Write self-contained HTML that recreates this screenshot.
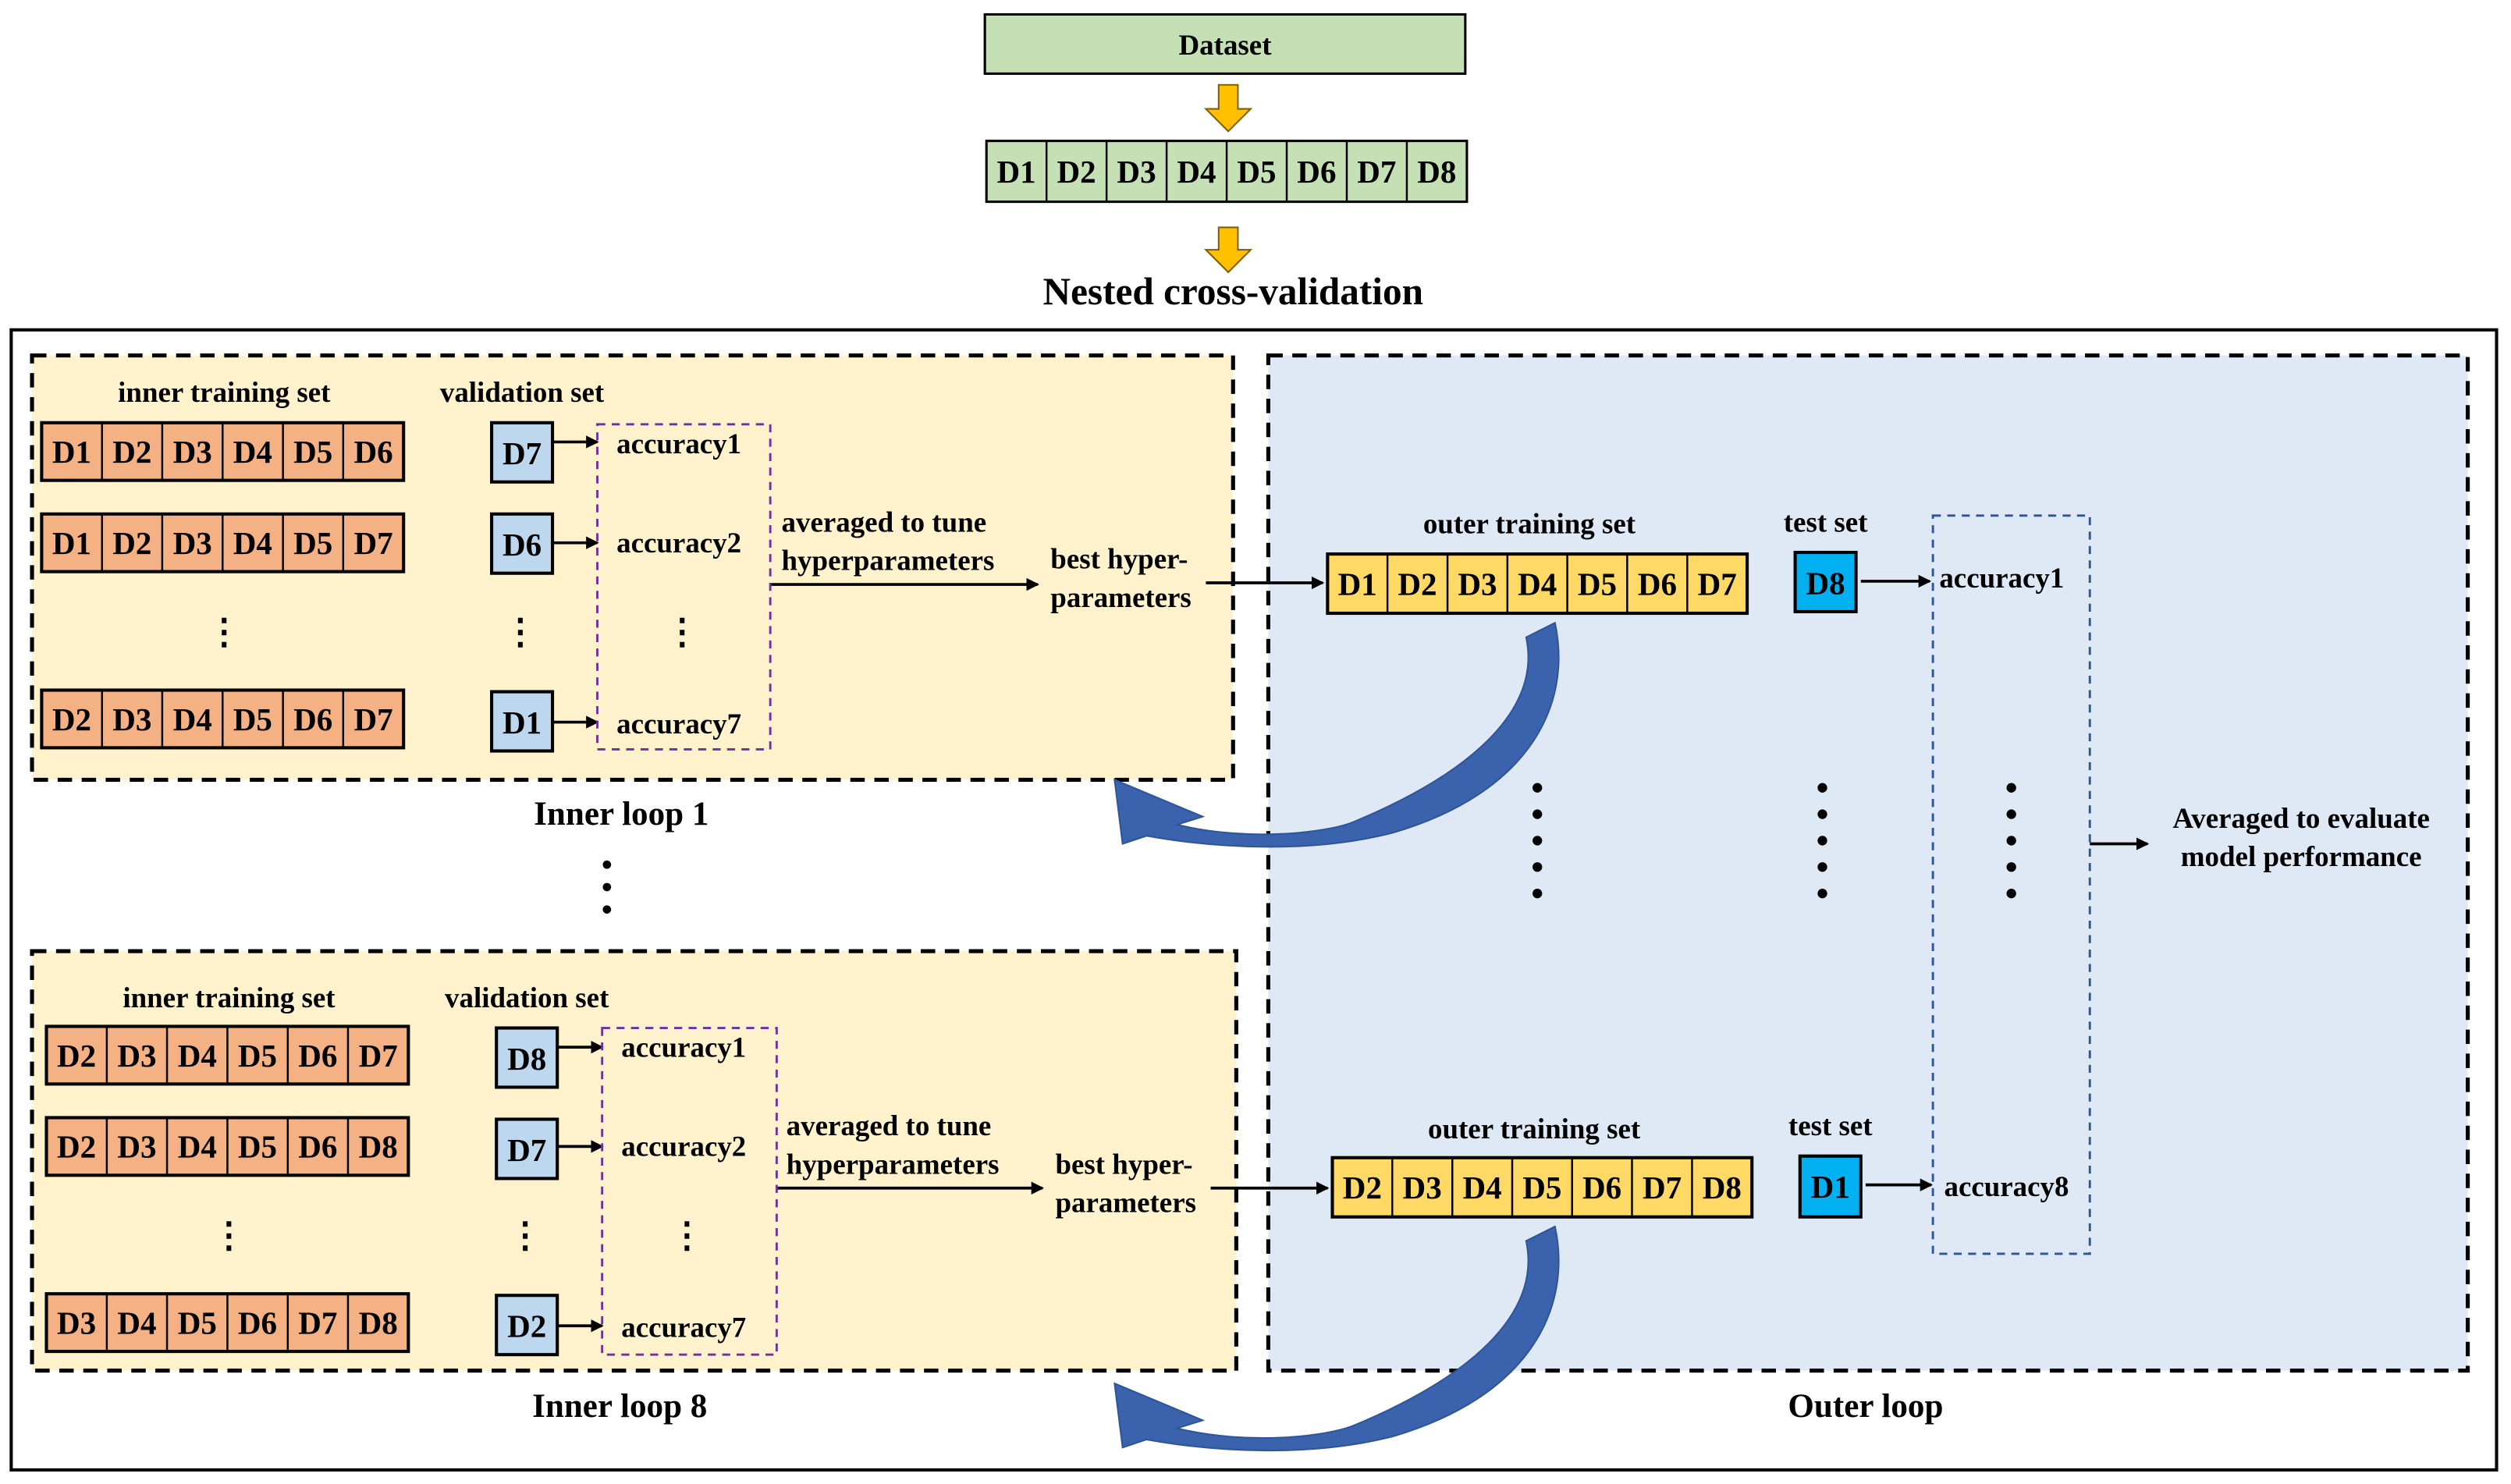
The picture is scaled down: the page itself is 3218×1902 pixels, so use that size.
<!DOCTYPE html>
<html><head><meta charset="utf-8"><style>
html,body{margin:0;padding:0;background:#fff}
svg{display:block}
svg text{font-family:"Liberation Serif","Times New Roman",Times,"DejaVu Serif",serif !important;font-weight:bold;fill:#000}
</style></head><body>
<svg width="3218" height="1902" viewBox="0 0 1568 926.8" preserveAspectRatio="none" xmlns="http://www.w3.org/2000/svg" font-family="Liberation Serif, Times New Roman, serif" font-weight="bold">
<defs>
<marker id="ah" markerWidth="8" markerHeight="8" refX="7" refY="4" orient="auto" markerUnits="userSpaceOnUse"><path d="M0,0 L8,4 L0,8 Z" fill="#000"/></marker>
</defs>
<rect x="615" y="9" width="300" height="37" fill="#c5e0b4" stroke="#000" stroke-width="1.5"/>
<text x="765" y="34" font-size="18" text-anchor="middle">Dataset</text>
<path d="M761,53 h12 v15 h8 l-14,14 l-14,-14 h8 z" fill="#ffc000" stroke="#7f6000" stroke-width="1"/>
<g>
<rect x="616" y="88" width="300" height="38" fill="#c5e0b4" stroke="#000" stroke-width="1.5"/>
<g stroke="#000" stroke-width="1.2">
<line x1="653.5" y1="88" x2="653.5" y2="126"/><line x1="691" y1="88" x2="691" y2="126"/><line x1="728.5" y1="88" x2="728.5" y2="126"/><line x1="766" y1="88" x2="766" y2="126"/><line x1="803.5" y1="88" x2="803.5" y2="126"/><line x1="841" y1="88" x2="841" y2="126"/><line x1="878.5" y1="88" x2="878.5" y2="126"/>
</g>
<g font-size="20" text-anchor="middle">
<text x="634.7" y="114">D1</text><text x="672.2" y="114">D2</text><text x="709.7" y="114">D3</text><text x="747.2" y="114">D4</text><text x="784.7" y="114">D5</text><text x="822.2" y="114">D6</text><text x="859.7" y="114">D7</text><text x="897.2" y="114">D8</text>
</g>
</g>
<path d="M761,142 h12 v14 h8 l-14,14 l-14,-14 h8 z" fill="#ffc000" stroke="#7f6000" stroke-width="1"/>
<text x="770" y="190" font-size="24" text-anchor="middle">Nested cross-validation</text>

<rect x="7" y="206" width="1552" height="712" fill="none" stroke="#000" stroke-width="2"/>

<rect x="792" y="222" width="749" height="634" fill="#dee9f5" stroke="#000" stroke-width="2.5" stroke-dasharray="9,6"/>
<rect x="20" y="222" width="750" height="265" fill="#fff2cc" stroke="#000" stroke-width="2.5" stroke-dasharray="9,6"/>
<rect x="20" y="594" width="752" height="262" fill="#fff2cc" stroke="#000" stroke-width="2.5" stroke-dasharray="9,6"/>

<text x="140" y="251" font-size="18" text-anchor="middle">inner training set</text>
<text x="326" y="251" font-size="18" text-anchor="middle">validation set</text>
<g font-size="20" text-anchor="middle">
<g transform="translate(26,264)">
<rect width="226" height="36" fill="#f4b183" stroke="#000" stroke-width="2"/>
<g stroke="#000" stroke-width="1.2"><line x1="37.7" y1="0" x2="37.7" y2="36"/><line x1="75.3" y1="0" x2="75.3" y2="36"/><line x1="113" y1="0" x2="113" y2="36"/><line x1="150.7" y1="0" x2="150.7" y2="36"/><line x1="188.3" y1="0" x2="188.3" y2="36"/></g>
<text x="18.8" y="25">D1</text><text x="56.5" y="25">D2</text><text x="94.2" y="25">D3</text><text x="131.8" y="25">D4</text><text x="169.5" y="25">D5</text><text x="207.2" y="25">D6</text>
</g>
<g transform="translate(26,321)">
<rect width="226" height="36" fill="#f4b183" stroke="#000" stroke-width="2"/>
<g stroke="#000" stroke-width="1.2"><line x1="37.7" y1="0" x2="37.7" y2="36"/><line x1="75.3" y1="0" x2="75.3" y2="36"/><line x1="113" y1="0" x2="113" y2="36"/><line x1="150.7" y1="0" x2="150.7" y2="36"/><line x1="188.3" y1="0" x2="188.3" y2="36"/></g>
<text x="18.8" y="25">D1</text><text x="56.5" y="25">D2</text><text x="94.2" y="25">D3</text><text x="131.8" y="25">D4</text><text x="169.5" y="25">D5</text><text x="207.2" y="25">D7</text>
</g>
<g transform="translate(26,431)">
<rect width="226" height="36" fill="#f4b183" stroke="#000" stroke-width="2"/>
<g stroke="#000" stroke-width="1.2"><line x1="37.7" y1="0" x2="37.7" y2="36"/><line x1="75.3" y1="0" x2="75.3" y2="36"/><line x1="113" y1="0" x2="113" y2="36"/><line x1="150.7" y1="0" x2="150.7" y2="36"/><line x1="188.3" y1="0" x2="188.3" y2="36"/></g>
<text x="18.8" y="25">D2</text><text x="56.5" y="25">D3</text><text x="94.2" y="25">D4</text><text x="131.8" y="25">D5</text><text x="169.5" y="25">D6</text><text x="207.2" y="25">D7</text>
</g>
<rect x="307" y="264" width="38" height="37" fill="#bdd7ee" stroke="#000" stroke-width="2"/><text x="326" y="290">D7</text>
<rect x="307" y="321" width="38" height="37" fill="#bdd7ee" stroke="#000" stroke-width="2"/><text x="326" y="347">D6</text>
<rect x="307" y="432" width="38" height="37" fill="#bdd7ee" stroke="#000" stroke-width="2"/><text x="326" y="458">D1</text>
</g>
<g stroke="#000" stroke-width="1.8" marker-end="url(#ah)">
<line x1="345" y1="276" x2="373" y2="276"/><line x1="345" y1="339" x2="373" y2="339"/><line x1="345" y1="451" x2="373" y2="451"/>
<line x1="481" y1="365" x2="648" y2="365"/><line x1="753" y1="364" x2="826" y2="364"/>
</g>
<rect x="373" y="265" width="108" height="203" fill="none" stroke="#7030a0" stroke-width="1.4" stroke-dasharray="5,4"/>
<g font-size="18">
<text x="385" y="283">accuracy1</text><text x="385" y="345">accuracy2</text><text x="385" y="458">accuracy7</text>
<text x="488" y="332">averaged to tune</text><text x="488" y="356">hyperparameters</text>
<text x="656" y="355">best hyper-</text><text x="656" y="379">parameters</text>
</g>
<g font-size="22" text-anchor="middle"><text x="140" y="402">⋮</text><text x="325" y="402">⋮</text><text x="426" y="402">⋮</text></g>
<text x="388" y="515" font-size="21" text-anchor="middle">Inner loop 1</text>
<g fill="#000"><circle cx="379" cy="540" r="2.6"/><circle cx="379" cy="554" r="2.6"/><circle cx="379" cy="568" r="2.6"/></g>

<text x="143" y="629" font-size="18" text-anchor="middle">inner training set</text>
<text x="329" y="629" font-size="18" text-anchor="middle">validation set</text>
<g font-size="20" text-anchor="middle">
<g transform="translate(29,641)">
<rect width="226" height="36" fill="#f4b183" stroke="#000" stroke-width="2"/>
<g stroke="#000" stroke-width="1.2"><line x1="37.7" y1="0" x2="37.7" y2="36"/><line x1="75.3" y1="0" x2="75.3" y2="36"/><line x1="113" y1="0" x2="113" y2="36"/><line x1="150.7" y1="0" x2="150.7" y2="36"/><line x1="188.3" y1="0" x2="188.3" y2="36"/></g>
<text x="18.8" y="25">D2</text><text x="56.5" y="25">D3</text><text x="94.2" y="25">D4</text><text x="131.8" y="25">D5</text><text x="169.5" y="25">D6</text><text x="207.2" y="25">D7</text>
</g>
<g transform="translate(29,698)">
<rect width="226" height="36" fill="#f4b183" stroke="#000" stroke-width="2"/>
<g stroke="#000" stroke-width="1.2"><line x1="37.7" y1="0" x2="37.7" y2="36"/><line x1="75.3" y1="0" x2="75.3" y2="36"/><line x1="113" y1="0" x2="113" y2="36"/><line x1="150.7" y1="0" x2="150.7" y2="36"/><line x1="188.3" y1="0" x2="188.3" y2="36"/></g>
<text x="18.8" y="25">D2</text><text x="56.5" y="25">D3</text><text x="94.2" y="25">D4</text><text x="131.8" y="25">D5</text><text x="169.5" y="25">D6</text><text x="207.2" y="25">D8</text>
</g>
<g transform="translate(29,808)">
<rect width="226" height="36" fill="#f4b183" stroke="#000" stroke-width="2"/>
<g stroke="#000" stroke-width="1.2"><line x1="37.7" y1="0" x2="37.7" y2="36"/><line x1="75.3" y1="0" x2="75.3" y2="36"/><line x1="113" y1="0" x2="113" y2="36"/><line x1="150.7" y1="0" x2="150.7" y2="36"/><line x1="188.3" y1="0" x2="188.3" y2="36"/></g>
<text x="18.8" y="25">D3</text><text x="56.5" y="25">D4</text><text x="94.2" y="25">D5</text><text x="131.8" y="25">D6</text><text x="169.5" y="25">D7</text><text x="207.2" y="25">D8</text>
</g>
<rect x="310" y="642" width="38" height="37" fill="#bdd7ee" stroke="#000" stroke-width="2"/><text x="329" y="668">D8</text>
<rect x="310" y="699" width="38" height="37" fill="#bdd7ee" stroke="#000" stroke-width="2"/><text x="329" y="725">D7</text>
<rect x="310" y="809" width="38" height="37" fill="#bdd7ee" stroke="#000" stroke-width="2"/><text x="329" y="835">D2</text>
</g>
<g stroke="#000" stroke-width="1.8" marker-end="url(#ah)">
<line x1="348" y1="654" x2="376" y2="654"/><line x1="348" y1="716" x2="376" y2="716"/><line x1="348" y1="828" x2="376" y2="828"/>
<line x1="485" y1="742" x2="651" y2="742"/><line x1="756" y1="742" x2="829" y2="742"/>
</g>
<rect x="376" y="642" width="109" height="204" fill="none" stroke="#7030a0" stroke-width="1.4" stroke-dasharray="5,4"/>
<g font-size="18">
<text x="388" y="660">accuracy1</text><text x="388" y="722">accuracy2</text><text x="388" y="835">accuracy7</text>
<text x="491" y="709">averaged to tune</text><text x="491" y="733">hyperparameters</text>
<text x="659" y="733">best hyper-</text><text x="659" y="757">parameters</text>
</g>
<g font-size="22" text-anchor="middle"><text x="143" y="779">⋮</text><text x="328" y="779">⋮</text><text x="429" y="779">⋮</text></g>
<text x="387" y="885" font-size="21" text-anchor="middle">Inner loop 8</text>

<g font-size="18" text-anchor="middle">
<text x="955" y="333">outer training set</text><text x="1140" y="332">test set</text>
<text x="958" y="711">outer training set</text><text x="1143" y="709">test set</text>
</g>
<g font-size="20" text-anchor="middle">
<g transform="translate(829,346)">
<rect width="262" height="37" fill="#ffd966" stroke="#000" stroke-width="2"/>
<g stroke="#000" stroke-width="1.2"><line x1="37.4" y1="0" x2="37.4" y2="37"/><line x1="74.9" y1="0" x2="74.9" y2="37"/><line x1="112.3" y1="0" x2="112.3" y2="37"/><line x1="149.7" y1="0" x2="149.7" y2="37"/><line x1="187.1" y1="0" x2="187.1" y2="37"/><line x1="224.6" y1="0" x2="224.6" y2="37"/></g>
<text x="18.7" y="25.5">D1</text><text x="56.1" y="25.5">D2</text><text x="93.6" y="25.5">D3</text><text x="131" y="25.5">D4</text><text x="168.4" y="25.5">D5</text><text x="205.9" y="25.5">D6</text><text x="243.3" y="25.5">D7</text>
</g>
<g transform="translate(832,723)">
<rect width="262" height="37" fill="#ffd966" stroke="#000" stroke-width="2"/>
<g stroke="#000" stroke-width="1.2"><line x1="37.4" y1="0" x2="37.4" y2="37"/><line x1="74.9" y1="0" x2="74.9" y2="37"/><line x1="112.3" y1="0" x2="112.3" y2="37"/><line x1="149.7" y1="0" x2="149.7" y2="37"/><line x1="187.1" y1="0" x2="187.1" y2="37"/><line x1="224.6" y1="0" x2="224.6" y2="37"/></g>
<text x="18.7" y="25.5">D2</text><text x="56.1" y="25.5">D3</text><text x="93.6" y="25.5">D4</text><text x="131" y="25.5">D5</text><text x="168.4" y="25.5">D6</text><text x="205.9" y="25.5">D7</text><text x="243.3" y="25.5">D8</text>
</g>
<rect x="1121" y="345" width="38" height="37" fill="#00b0f0" stroke="#000" stroke-width="2"/><text x="1140" y="371">D8</text>
<rect x="1124" y="722" width="38" height="38" fill="#00b0f0" stroke="#000" stroke-width="2"/><text x="1143" y="748">D1</text>
</g>
<g stroke="#000" stroke-width="1.8" marker-end="url(#ah)">
<line x1="1162" y1="363" x2="1205" y2="363"/><line x1="1165" y1="740" x2="1206" y2="740"/>
<line x1="1305" y1="527" x2="1341" y2="527"/>
</g>
<rect x="1207" y="322" width="98" height="461" fill="none" stroke="#2f5597" stroke-width="1.4" stroke-dasharray="5,4"/>
<g font-size="18"><text x="1211" y="367">accuracy1</text><text x="1214" y="747">accuracy8</text></g>
<g font-size="18" text-anchor="middle"><text x="1437" y="517">Averaged to evaluate</text><text x="1437" y="541">model performance</text></g>
<g fill="#000">
<circle cx="960" cy="492" r="3"/><circle cx="960" cy="508.5" r="3"/><circle cx="960" cy="525" r="3"/><circle cx="960" cy="541.5" r="3"/><circle cx="960" cy="558" r="3"/>
<circle cx="1138" cy="492" r="3"/><circle cx="1138" cy="508.5" r="3"/><circle cx="1138" cy="525" r="3"/><circle cx="1138" cy="541.5" r="3"/><circle cx="1138" cy="558" r="3"/>
<circle cx="1256" cy="492" r="3"/><circle cx="1256" cy="508.5" r="3"/><circle cx="1256" cy="525" r="3"/><circle cx="1256" cy="541.5" r="3"/><circle cx="1256" cy="558" r="3"/>
</g>
<text x="1165" y="885" font-size="21" text-anchor="middle">Outer loop</text>

<path d="M971,389 C982,440 955,495 870,520 C820,533 760,530 716,522 L701,527 L696,487 L751,510 L735,515 C780,526 830,520 846,513 C925,480 962,440 953,398 Z" fill="#3a62ad" stroke="#2f5597" stroke-width="1"/>
<g transform="translate(0,377)">
<path d="M971,389 C982,440 955,495 870,520 C820,533 760,530 716,522 L701,527 L696,487 L751,510 L735,515 C780,526 830,520 846,513 C925,480 962,440 953,398 Z" fill="#3a62ad" stroke="#2f5597" stroke-width="1"/>
</g>
</svg>
</body></html>
